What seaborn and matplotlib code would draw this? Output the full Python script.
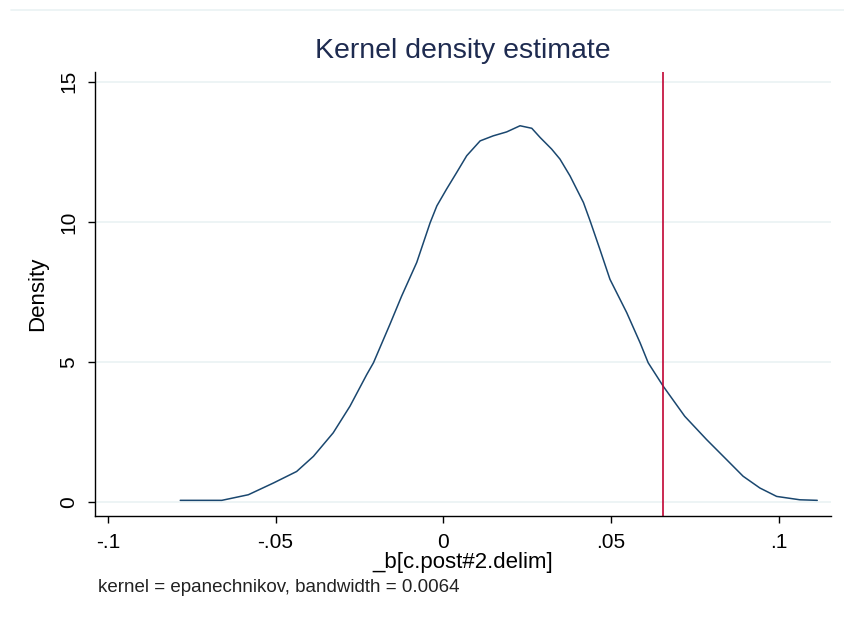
import matplotlib
matplotlib.use("Agg")
import matplotlib.pyplot as plt
from matplotlib.lines import Line2D
import seaborn as sns
import pandas as pd

sns.set_style("white")
plt.rcParams['font.family'] = ['Liberation Sans', 'DejaVu Sans']

# Kernel density estimate
coef_x = [-0.0784, -0.0660, -0.0581, -0.0506, -0.0437, -0.0387, -0.0328, -0.0278,
          -0.0228, -0.0208, -0.0159, -0.0124, -0.0079, -0.0039, -0.0019, 0.0010,
          0.0040, 0.0070, 0.0110, 0.0149, 0.0189, 0.0229, 0.0264, 0.0289, 0.0323,
          0.0348, 0.0378, 0.0418, 0.0438, 0.0467, 0.0497, 0.0547, 0.0587, 0.0611,
          0.0656, 0.0720, 0.0785, 0.0845, 0.0894, 0.0944, 0.0994, 0.1063, 0.1115]
density = [0.06, 0.06, 0.26, 0.68, 1.09, 1.63, 2.47, 3.42,
           4.55, 4.97, 6.34, 7.35, 8.55, 9.97, 10.57, 11.17,
           11.76, 12.36, 12.89, 13.07, 13.21, 13.43, 13.34, 13.01, 12.60,
           12.24, 11.64, 10.69, 10.03, 9.02, 7.95, 6.76, 5.68, 4.97,
           4.13, 3.06, 2.23, 1.51, 0.92, 0.50, 0.20, 0.08, 0.06]
ref_value = 0.0656
x_ticks = [-0.1, -0.05, 0, 0.05, 0.1]
x_tick_labels = ["-.1", "-.05", "0", ".05", ".1"]
y_ticks = [0, 5, 10, 15]
y_tick_labels = ["0", "5", "10", "15"]

df = pd.DataFrame({"x": coef_x, "density": density})

fig = plt.figure(figsize=(8.44, 6.18), dpi=100)
ax = fig.add_axes([0.1126, 0.1650, 0.9846 - 0.1126, 0.884 - 0.1650])

sns.lineplot(data=df, x="x", y="density", ax=ax, color="#1a476f",
             linewidth=1.1, sort=False, estimator=None)
ax.axvline(ref_value, color="#c10534", linewidth=1.2)

ax.set_xlim(-0.1038, 0.1156)
ax.set_ylim(-0.5, 15.36)
ax.set_xticks(x_ticks)
ax.set_xticklabels(x_tick_labels)
ax.set_yticks(y_ticks)
ax.set_yticklabels(y_tick_labels)

ax.grid(axis="y", color="#eaf2f3", linewidth=1.2)
ax.grid(axis="x", visible=False)
ax.set_axisbelow(True)

for s in ["top", "right"]:
    ax.spines[s].set_visible(False)
for s in ["left", "bottom"]:
    ax.spines[s].set_color("black")
    ax.spines[s].set_linewidth(1.0)

ax.tick_params(axis="both", which="major", direction="out", length=5, width=1.0,
               color="black", labelsize=15, pad=7, labelcolor="black",
               bottom=True, left=True, top=False, right=False)
ax.tick_params(axis="y", labelrotation=90)
for t in ax.get_yticklabels():
    t.set_va("center")

ax.set_xlabel("_b[c.post#2.delim]", fontsize=16, labelpad=0, color="black")
ax.set_ylabel("Density", fontsize=16, labelpad=8, color="black")
ax.set_title("Kernel density estimate", fontsize=20.5, color="#1e2b50", pad=10)

fig.text(0.1165, 0.050, "kernel = epanechnikov, bandwidth = 0.0064",
         fontsize=13.5, color="#222222", ha="left", va="center")

fig.add_artist(Line2D([11 / 844, 1.0], [1 - 9.5 / 618, 1 - 9.5 / 618],
                      transform=fig.transFigure, color="#eaf2f3", linewidth=1.2))

fig.savefig("out.png", dpi=100, facecolor="white")
